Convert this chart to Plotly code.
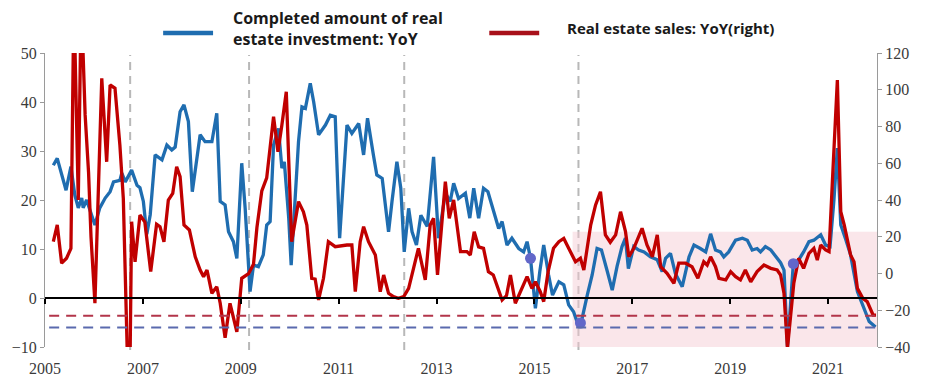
import plotly.graph_objects as go

# ---------------- data ----------------
blue_t = [2005.17, 2005.25, 2005.43, 2005.53, 2005.61, 2005.68, 2005.75, 2005.78, 2005.85, 2006.02,
          2006.12, 2006.23, 2006.33, 2006.40, 2006.53, 2006.57, 2006.64, 2006.77, 2006.88, 2006.94,
          2007.01, 2007.08, 2007.15, 2007.25, 2007.39, 2007.49, 2007.59, 2007.66, 2007.76, 2007.84,
          2007.93, 2008.01, 2008.17, 2008.27, 2008.41, 2008.51, 2008.58, 2008.68, 2008.75, 2008.85,
          2008.92, 2009.02, 2009.09, 2009.19, 2009.26, 2009.36, 2009.46, 2009.53, 2009.60, 2009.67,
          2009.77, 2009.84, 2009.89, 2009.98, 2010.03, 2010.11, 2010.18, 2010.25, 2010.32, 2010.42,
          2010.49, 2010.59, 2010.73, 2010.83, 2010.93, 2011.02, 2011.17, 2011.27, 2011.41, 2011.51,
          2011.59, 2011.71, 2011.78, 2011.89, 2012.02, 2012.09, 2012.19, 2012.27, 2012.34, 2012.43,
          2012.50, 2012.59, 2012.68, 2012.81, 2012.94, 2013.04, 2013.18, 2013.28, 2013.35, 2013.45,
          2013.59, 2013.68, 2013.76, 2013.86, 2013.96, 2014.05, 2014.13, 2014.27, 2014.34, 2014.44,
          2014.54, 2014.68, 2014.78, 2014.85, 2014.92, 2015.02, 2015.11, 2015.19, 2015.29, 2015.37,
          2015.50, 2015.60, 2015.70, 2015.80, 2015.87, 2015.96, 2016.08, 2016.18, 2016.28, 2016.37,
          2016.49, 2016.59, 2016.69, 2016.79, 2016.86, 2016.92, 2017.03, 2017.13, 2017.24, 2017.37,
          2017.51, 2017.61, 2017.68, 2017.78, 2017.88, 2018.02, 2018.16, 2018.26, 2018.39, 2018.50,
          2018.60, 2018.70, 2018.80, 2018.87, 2018.97, 2019.11, 2019.25, 2019.35, 2019.45, 2019.55,
          2019.62, 2019.72, 2019.83, 2019.93, 2020.03, 2020.10, 2020.17, 2020.23, 2020.29, 2020.40,
          2020.50, 2020.61, 2020.71, 2020.85, 2020.95, 2021.04, 2021.12, 2021.19, 2021.26, 2021.36,
          2021.46, 2021.60, 2021.73, 2021.84, 2021.97]
investment_yoy = [27.1, 28.5, 22, 26.8, 21, 18.4, 20.4, 18.4, 20, 14.9,
                  18.4, 20.4, 21.7, 23.7, 24, 25.5, 23.7, 26.1, 23, 22.5,
                  19.7, 13, 17, 29.2, 28.2, 31.2, 30.2, 30.8, 38, 39.4,
                  36, 21.7, 33.3, 31.9, 31.9, 37.7, 19.7, 19, 13.5, 11.5,
                  8.1, 27.5, 18.3, 1.3, 6.7, 6.4, 8.8, 14.9, 15.6, 31.2,
                  34.6, 26.5, 27.8, 16.3, 6.7, 21, 31.9, 39, 38.7, 43.8,
                  40, 33.3, 35.3, 37.3, 37, 12.2, 35.3, 33.6, 35.6, 29.2,
                  36.7, 29.2, 25.1, 24.4, 13.5, 19.7, 27.8, 22.4, 9.4, 18.3,
                  13.5, 10.8, 16.9, 14.6, 28.8, 12.2, 21.4, 19.7, 23.4, 20.3,
                  21.4, 16.3, 22.4, 16.3, 22.4, 21.7, 19, 14.2, 15.6, 10.8,
                  12.2, 10.1, 9.4, 11.5, 8.1, -2.1, 5.4, 10.8, 4.7, 0.6,
                  3.3, 2.7, -1.4, -2.8, -4.8, -4.8, 0.6, 4.7, 10.1, 9.8,
                  5.4, 1.6, 6.5, 10.5, 12.2, 6, 10.5, 9.8, 9.4, 8.4,
                  7.8, 5.4, 8.1, 9.1, 5, 2.3, 8.4, 10.8, 10.1, 9.4,
                  13.1, 9.8, 9.4, 8.4, 9.4, 11.8, 12.2, 11.8, 9.8, 10.1,
                  9.4, 10.5, 9.8, 8.4, 7.2, 5.7, -9.9, -1.8, 7, 7.8,
                  9.4, 11.5, 11.8, 12.9, 10.8, 10.5, 20, 30.6, 14.9, 12,
                  8.8, 1.3, -2.1, -4.8, -5.9]

red_t = [2005.17, 2005.25, 2005.34, 2005.44, 2005.53, 2005.59, 2005.68, 2005.74, 2005.82, 2005.89,
         2005.94, 2006.02, 2006.16, 2006.26, 2006.33, 2006.43, 2006.53, 2006.60, 2006.68, 2006.74,
         2006.77, 2006.84, 2006.94, 2007.04, 2007.16, 2007.28, 2007.35, 2007.43, 2007.52, 2007.61,
         2007.69, 2007.76, 2007.84, 2007.95, 2008.07, 2008.17, 2008.24, 2008.31, 2008.41, 2008.51,
         2008.58, 2008.68, 2008.78, 2008.92, 2009.02, 2009.16, 2009.26, 2009.33, 2009.43, 2009.53,
         2009.67, 2009.76, 2009.84, 2009.93, 2010.04, 2010.18, 2010.28, 2010.35, 2010.45, 2010.52,
         2010.59, 2010.69, 2010.79, 2010.93, 2011.17, 2011.27, 2011.34, 2011.44, 2011.51, 2011.61,
         2011.75, 2011.85, 2011.92, 2012.02, 2012.12, 2012.22, 2012.33, 2012.43, 2012.53, 2012.63,
         2012.77, 2012.87, 2012.94, 2013.02, 2013.18, 2013.26, 2013.35, 2013.49, 2013.62, 2013.69,
         2013.77, 2013.86, 2013.96, 2014.06, 2014.16, 2014.34, 2014.43, 2014.51, 2014.61, 2014.71,
         2014.85, 2014.95, 2015.02, 2015.12, 2015.19, 2015.28, 2015.39, 2015.50, 2015.60, 2015.70,
         2015.84, 2015.94, 2016.01, 2016.15, 2016.25, 2016.35, 2016.45, 2016.55, 2016.66, 2016.76,
         2016.86, 2016.93, 2017.03, 2017.20, 2017.30, 2017.41, 2017.51, 2017.58, 2017.71, 2017.85,
         2017.95, 2018.09, 2018.22, 2018.34, 2018.46, 2018.53, 2018.60, 2018.70, 2018.77, 2018.91,
         2019.01, 2019.11, 2019.21, 2019.31, 2019.42, 2019.55, 2019.69, 2019.83, 2019.96, 2020.03,
         2020.10, 2020.17, 2020.23, 2020.30, 2020.40, 2020.50, 2020.61, 2020.71, 2020.78, 2020.85,
         2020.95, 2021.02, 2021.09, 2021.19, 2021.26, 2021.33, 2021.46, 2021.53, 2021.60, 2021.71,
         2021.80, 2021.92, 2021.98]
sales_yoy = [17.3, 26.4, 5.6, 8.3, 13.7, 150, 40, 150, 86.3, 55,
             20, -16.2, 106.2, 60.8, 102.6, 100.8, 69.9, 40.9, -42, -42,
             28.2, 6.4, 31.8, 28, 1, 26.8, 25.5, 17.3, 40, 43.6,
             58.1, 52.7, 26.4, 23.7, 9.1, 1.9, -1.7, 1.9, -10.8, -7.2,
             -16.2, -35, -16.2, -31.7, -2.6, 0, 5, 25, 45, 52,
             85.3, 66.3, 80.8, 98.9, 17.3, 39.1, 33.6, 26.4, -2.6, -3,
             -14.4, -2.6, 17.3, 14.6, 15.5, 15.5, -9.9, 17.3, 25.5, 17.3,
             10.1, -9.9, -0.8, -10.8, -12.6, -13.5, -12.6, -8.1, 2.8, 13.7,
             -3.5, 26.4, 30, -0.8, 50, 30, 40, 11.9, 11.9, 10.1,
             22.7, 14.5, 13.7, 1, -0.8, -14.4, -12, -0.8, -16.2, -9.9,
             -1.7, -8.1, -4.5, -9.9, -15.3, 1, 13.7, 17.3, 19.1, 13.7,
             6.4, 8.3, 1.9, 26.4, 37.3, 44.5, 21, 17, 21, 33.6,
             23, 9.1, 13.7, 24.6, 15.5, 9.1, 21, 3.7, 0.1, -5.3,
             5.6, 5.6, 3.7, -2.6, 6.4, 4.6, 9.1, 3.7, -2.6, -3.5,
             1, -1.7, -3.5, 1.9, -4.5, 1, 4.6, 2.8, 1.9, -0.8,
             -10.8, -40.7, -25.3, -5.3, 8.3, 2.8, 11, 13.7, 7.3, 15.5,
             12.8, 11.9, 50.9, 105.3, 33.6, 26.4, 10.1, 6.4, -8.1, -13.5,
             -15.3, -22.6, -22.6]

dot_t = [2014.92, 2015.94, 2020.29]
dot_v = [8.1, -5.1, 7.0]

event_years = [2006.74, 2009.17, 2012.34, 2015.90]
shade_start, shade_end = 2015.78, 2022.0
shade_low, shade_high = -10, 13.5
invest_ref = -6.0      # left axis
sales_ref = -23.0      # right axis

x_ticks = [2005, 2007, 2009, 2011, 2013, 2015, 2017, 2019, 2021]
left_range = [-10, 50]
right_range = [-40, 120]
x_range = [2005, 2022]

BLUE = "#1f6db0"
RED = "#c00000"
DOT = "#6267c9"

fig = go.Figure()

fig.add_trace(go.Scatter(x=blue_t, y=investment_yoy, mode="lines",
                         line=dict(color=BLUE, width=3.3), yaxis="y", showlegend=False))
fig.add_trace(go.Scatter(x=red_t, y=sales_yoy, mode="lines",
                         line=dict(color=RED, width=3.3), yaxis="y2", showlegend=False))
fig.add_trace(go.Scatter(x=dot_t, y=dot_v, mode="markers", xaxis="x2", yaxis="y",
                         marker=dict(color=DOT, size=11), showlegend=False))

serif = dict(family="Liberation Serif", size=16, color="#3a3a3a")

# shaded region
fig.add_shape(type="rect", xref="x", yref="y", x0=shade_start, x1=shade_end,
              y0=shade_low, y1=shade_high, fillcolor="rgba(245,200,208,0.45)",
              line=dict(width=0), layer="below")
# event lines
for yr in event_years:
    fig.add_shape(type="line", xref="x", yref="paper", x0=yr, x1=yr, y0=-0.01, y1=0.993,
                  line=dict(color="#b8b8b8", width=2, dash="8px,6px"), layer="below")
# reference lines
fig.add_shape(type="line", xref="paper", yref="y2", x0=0.005, x1=1.0, y0=sales_ref, y1=sales_ref,
              line=dict(color="#b2354a", width=2, dash="10px,7px"))
fig.add_shape(type="line", xref="paper", yref="y", x0=0.005, x1=1.0, y0=invest_ref, y1=invest_ref,
              line=dict(color="#5a6aae", width=2, dash="10px,7px"))

# legend (manual)
fig.add_shape(type="line", xref="paper", yref="paper", x0=0.142, x1=0.202, y0=1.068, y1=1.068,
              line=dict(color=BLUE, width=4.5))
fig.add_shape(type="line", xref="paper", yref="paper", x0=0.534, x1=0.594, y0=1.068, y1=1.068,
              line=dict(color="#a8101a", width=4.5))
fig.add_annotation(xref="paper", yref="paper", x=0.223, y=1.085, xanchor="left", yanchor="middle",
                   text="Completed amount of real<br>estate investment: YoY", showarrow=False,
                   align="left",
                   font=dict(family="Open Sans", size=16, color="#1a1a1a", weight="bold"))
fig.add_annotation(xref="paper", yref="paper", x=0.625, y=1.085, xanchor="left", yanchor="middle",
                   text="Real estate sales: YoY(right)", showarrow=False, align="left",
                   font=dict(family="Open Sans", size=15, color="#1a1a1a", weight="bold"))

fig.update_layout(
    width=921, height=375,
    margin=dict(l=37, r=52, t=45, b=36, autoexpand=False),
    paper_bgcolor="white", plot_bgcolor="white",
    xaxis=dict(range=x_range, tickvals=x_ticks, showline=False, ticks="", showgrid=False,
               zeroline=False, tickfont=serif, ticklabelstandoff=10, automargin=False),
    xaxis2=dict(range=x_range, overlaying="x", anchor="free", position=1/6, side="bottom",
                showline=True, linecolor="black", linewidth=1.6, ticks="outside",
                ticklen=5, tickwidth=1.6, tickcolor="black", tickvals=x_ticks,
                showticklabels=False, showgrid=False, zeroline=False, automargin=False),
    yaxis=dict(range=left_range, dtick=10, showline=True, linecolor="#9a9a9a", linewidth=1,
               ticks="outside", ticklen=4, tickcolor="#9a9a9a", showgrid=False, zeroline=False,
               tickfont=serif, automargin=False),
    yaxis2=dict(range=right_range, dtick=20, overlaying="y", side="right", showline=True,
                linecolor="#9a9a9a", linewidth=1, ticks="outside", ticklen=4, tickcolor="#9a9a9a",
                showgrid=False, zeroline=False, tickfont=serif, automargin=False),
    showlegend=False,
)

fig.write_html("out.html")
